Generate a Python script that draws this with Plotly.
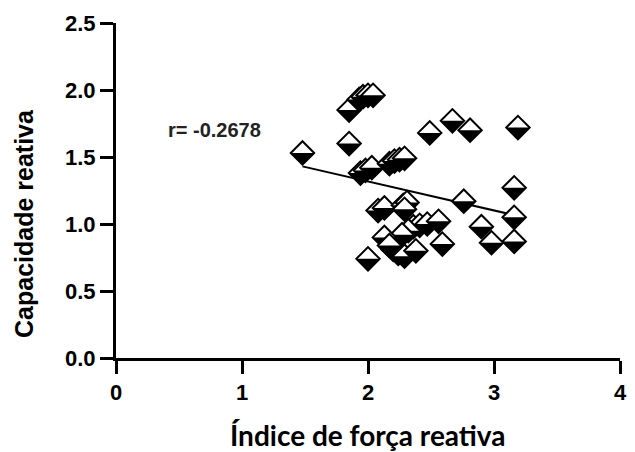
import plotly.graph_objects as go

# ---- data ----
idx_forca = [1.48, 1.85, 1.85, 1.93, 1.96, 2.00, 2.04, 1.94, 1.98, 2.03,
             2.17, 2.21, 2.25, 2.29, 2.49, 2.67, 2.81, 3.19, 2.76, 3.16,
             3.16, 2.08, 2.13, 2.28, 2.31, 2.29, 2.36, 2.41, 2.47, 2.56,
             2.32, 2.27, 2.13, 2.90, 2.98, 3.16, 2.59, 2.00, 2.20, 2.24,
             2.29, 2.38, 2.17]
cap_reativa = [1.53, 1.85, 1.60, 1.93, 1.95, 1.96, 1.96, 1.38, 1.40, 1.42,
               1.45, 1.47, 1.48, 1.49, 1.68, 1.77, 1.70, 1.72, 1.17, 1.27,
               1.05, 1.10, 1.12, 1.14, 1.16, 1.11, 0.98, 0.99, 1.00, 1.02,
               0.95, 0.92, 0.90, 0.98, 0.86, 0.87, 0.85, 0.74, 0.81, 0.78,
               0.76, 0.80, 0.84]
fit_x = [1.48, 3.19]
fit_y = [1.43, 1.06]
r_label = "r= -0.2678"
x_ticks = [0, 1, 2, 3, 4]
y_ticks = [0.0, 0.5, 1.0, 1.5, 2.0, 2.5]
x_title = "Índice de força reativa"
y_title = "Capacidade reativa"

# ---- layout constants ----
W, H = 635, 452
ML, MR, MT, MB = 116, 8, 23, 94
X_RANGE = [0, 4]
Y_RANGE = [0, 2.5]
plot_h = H - MT - MB
px_per_y = plot_h / (Y_RANGE[1] - Y_RANGE[0])

# marker geometry: white diamond, black lower half (right isosceles triangle)
DIAM_SIZE = 18
half_diag = 0.65 * DIAM_SIZE          # plotly diamond half diagonal (px)
TRI_SIZE = 1.571 * half_diag          # triangle-ne rotated 135 -> lower half
shift_px = 0.3333 * half_diag         # move triangle base down onto centre
dy = shift_px / px_per_y

fig = go.Figure()

fig.add_trace(go.Scatter(x=fit_x, y=fit_y, mode="lines",
                         line=dict(color="black", width=2),
                         showlegend=False, hoverinfo="skip"))

for xv, yv in zip(idx_forca, cap_reativa):
    fig.add_trace(go.Scatter(
        x=[xv], y=[yv], mode="markers", showlegend=False,
        marker=dict(symbol="diamond", size=DIAM_SIZE, color="white",
                    line=dict(color="black", width=2))))
    fig.add_trace(go.Scatter(
        x=[xv], y=[yv - dy], mode="markers", showlegend=False,
        hoverinfo="skip",
        marker=dict(symbol="triangle-ne", size=TRI_SIZE, color="black",
                    angle=135, line=dict(width=0))))

fig.add_annotation(x=0.78, y=1.70, xref="x", yref="y", text=r_label,
                   showarrow=False,
                   font=dict(family="Liberation Sans", size=20,
                             color="#222", weight="bold"))

fig.add_annotation(x=0, y=(MT + plot_h - 224) / plot_h, xref="paper",
                   yref="paper", xshift=24 - ML, text=y_title,
                   textangle=-90, showarrow=False,
                   xanchor="center", yanchor="middle",
                   font=dict(family="Liberation Sans", size=25,
                             color="black", weight="bold"))

fig.add_annotation(x=0.5, y=0, xref="paper", yref="paper", yshift=-77,
                   text=x_title, showarrow=False,
                   xanchor="center", yanchor="middle",
                   font=dict(family="Lato", size=28,
                             color="black", weight="bold"))

axis_common = dict(showline=True, linecolor="black", linewidth=3,
                   ticks="outside", ticklen=13, tickwidth=3,
                   tickcolor="black", showgrid=False, zeroline=False,
                   tickfont=dict(family="Liberation Sans", size=22,
                                 color="black", weight="bold"))

fig.update_xaxes(range=X_RANGE, tickvals=x_ticks,
                 ticktext=[str(v) for v in x_ticks], **axis_common)
fig.update_yaxes(range=Y_RANGE, tickvals=y_ticks,
                 ticktext=[f"{v:.1f}" for v in y_ticks],
                 **axis_common)

fig.update_layout(width=W, height=H,
                  margin=dict(l=ML, r=MR, t=MT, b=MB, pad=0),
                  plot_bgcolor="white", paper_bgcolor="white",
                  showlegend=False)

fig.write_html("out.html")
